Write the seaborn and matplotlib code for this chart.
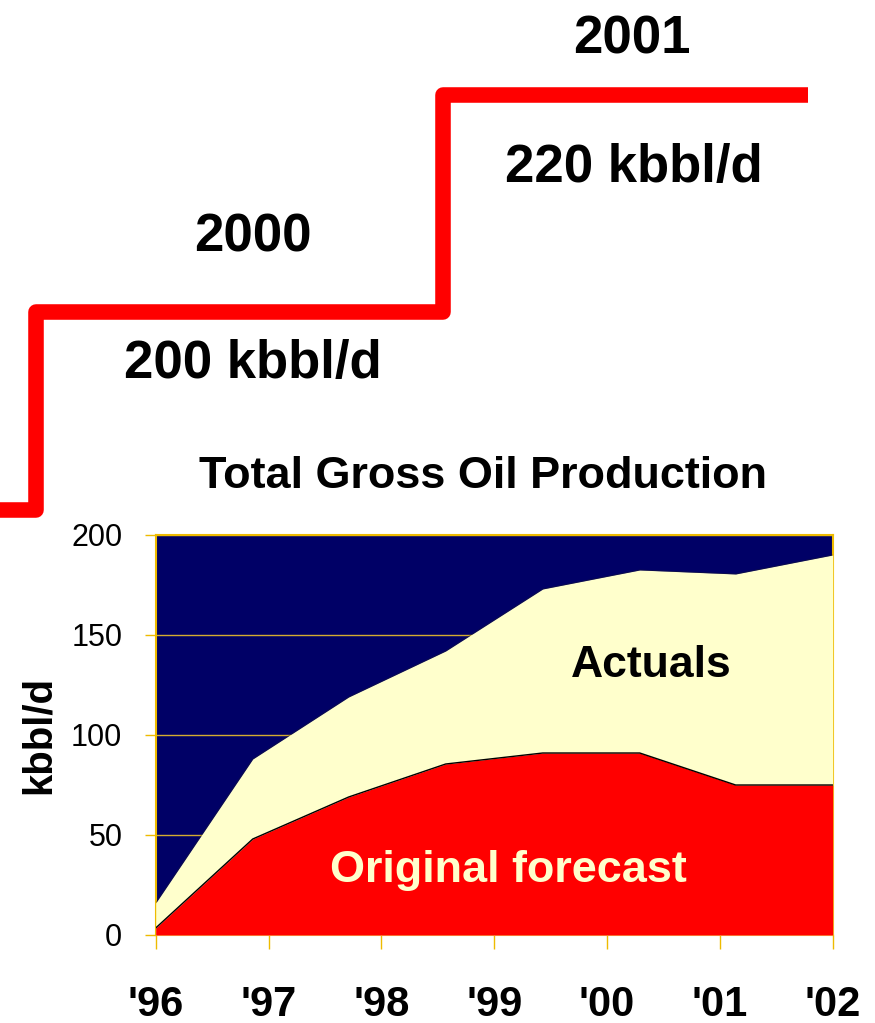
import matplotlib
matplotlib.use("Agg")
import matplotlib.pyplot as plt
import seaborn as sns
import pandas as pd

# ---- data ----
x_years = [1996.0, 1996.86, 1997.71, 1998.57, 1999.43, 2000.29, 2001.14, 2002.0]
actuals = [16, 88, 119, 142, 173, 182.5, 180.5, 190]
original_forecast = [3.5, 48, 69, 85.5, 91, 91, 75, 75]
year_ticks = [1996, 1997, 1998, 1999, 2000, 2001, 2002]
year_labels = ["'96", "'97", "'98", "'99", "'00", "'01", "'02"]
y_ticks = [0, 50, 100, 150, 200]
target_years = ["2000", "2001"]
target_levels = ["200 kbbl/d", "220 kbbl/d"]

df = pd.DataFrame({"year": x_years, "actuals": actuals, "forecast": original_forecast})

sns.set_theme(style="white")
plt.rcParams["font.family"] = ["Liberation Sans", "DejaVu Sans"]
plt.rcParams["text.color"] = "black"
plt.rcParams["axes.labelcolor"] = "black"
plt.rcParams["xtick.color"] = "black"
plt.rcParams["ytick.color"] = "black"

W, H = 875, 1023
fig = plt.figure(figsize=(W / 100, H / 100), dpi=100)

NAVY = "#000066"
CREAM = "#FFFFCC"
RED = "#FF0000"
GOLD = "#EEBB00"
GRID = "#D4AA30"

# ---- main chart ----
ax = fig.add_axes([155.7 / W, 1 - 935 / H, 677 / W, 400 / H])
ax.set_facecolor(NAVY)
ax.set_xlim(1996, 2002)
ax.set_ylim(0, 200)
ax.set_yticks(y_ticks)
ax.yaxis.grid(True, color=GRID, linewidth=1.0, zorder=0)
ax.set_axisbelow(True)

ax.fill_between(df["year"], 0, df["actuals"], color=CREAM, linewidth=0, zorder=2)
ax.fill_between(df["year"], 0, df["forecast"], color=RED, linewidth=0, zorder=3)
sns.lineplot(data=df, x="year", y="forecast", ax=ax, color="black", linewidth=1.0, zorder=4)
sns.lineplot(data=df, x="year", y="actuals", ax=ax, color="#222222", linewidth=0.5, zorder=4, alpha=0.5)

ax.set_xticks(year_ticks)
ax.set_xticklabels(year_labels, fontsize=30, fontweight="bold", color="black")
ax.set_yticklabels([str(v) for v in y_ticks], fontsize=22, color="black")
ax.tick_params(axis="y", direction="out", length=8, width=1, color=GOLD, pad=16, left=True,
               labelcolor="black")
ax.tick_params(axis="x", direction="out", length=10, width=1, color=GOLD, pad=26, bottom=True,
               labelcolor="black")
ax.set_xlabel("")
ax.set_ylabel("kbbl/d", fontsize=29, fontweight="bold", labelpad=9.5, color="black")
for s in ax.spines.values():
    s.set_color(GOLD)
    s.set_linewidth(1.5)
    s.set_zorder(1)

ax.text(651 / W, 1 - 677 / H, "Actuals", transform=fig.transFigure, ha="center", va="baseline",
        fontsize=32, fontweight="bold", color="black", zorder=6)
ax.text(508 / W, 1 - 882 / H, "Original forecast", transform=fig.transFigure, ha="center", va="baseline",
        fontsize=32.4, fontweight="bold", color=CREAM, zorder=6)

# ---- title ----
fig.text(483 / W, 1 - 488 / H, "Total Gross Oil Production", ha="center", va="baseline",
         fontsize=32.4, fontweight="bold", color="black")

# ---- decorative step (targets) ----
ov = fig.add_axes([0, 0, 1, 1], zorder=-1)
ov.set_xlim(0, W)
ov.set_ylim(H, 0)
ov.axis("off")
ov.patch.set_alpha(0)
ov.plot([0, 36, 36, 443, 443, 808], [510, 510, 312, 312, 94.5, 94.5], color=RED,
        linewidth=11.2, solid_joinstyle="round", solid_capstyle="butt")

fig.text(253 / W, 1 - 252 / H, target_years[0], ha="center", va="baseline", fontsize=38,
         fontweight="bold", color="black")
fig.text(252.5 / W, 1 - 378 / H, target_levels[0], ha="center", va="baseline", fontsize=38,
         fontweight="bold", color="black")
fig.text(632 / W, 1 - 53 / H, target_years[1], ha="center", va="baseline", fontsize=38,
         fontweight="bold", color="black")
fig.text(634 / W, 1 - 182 / H, target_levels[1], ha="center", va="baseline", fontsize=38,
         fontweight="bold", color="black")

fig.savefig("out.png", dpi=100)
